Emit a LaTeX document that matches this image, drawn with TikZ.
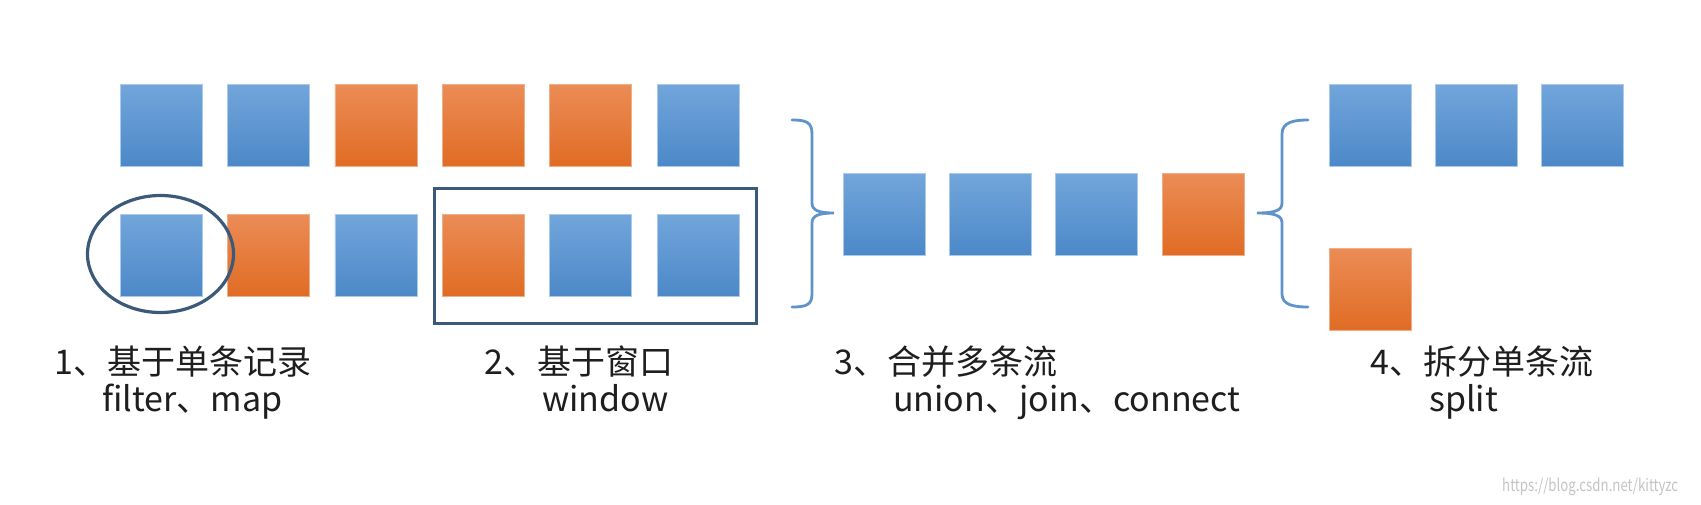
\documentclass[tikz,border=0pt]{standalone}
\usepackage{fontspec}
\setmainfont{Noto Sans CJK SC}
\usetikzlibrary{shapes.geometric}
\definecolor{bluetop}{HTML}{72A6DB}
\definecolor{bluebot}{HTML}{4C88C8}
\definecolor{orgtop}{HTML}{EB8C56}
\definecolor{orgbot}{HTML}{E06C24}
\definecolor{framec}{HTML}{3B5A79}
\definecolor{bracec}{HTML}{5E93CB}
\definecolor{txt}{HTML}{1E1E1E}
\definecolor{wmc}{HTML}{C4C4C4}
\begin{document}
\begin{tikzpicture}[x=1pt,y=-1pt,
  sq/.style={minimum width=82pt,minimum height=82pt,inner sep=0pt,outer sep=0pt,anchor=north west},
  bsq/.style={sq,top color=bluetop,bottom color=bluebot,draw=bluetop!60!white,line width=0.6pt},
  osq/.style={sq,top color=orgtop,bottom color=orgbot,draw=orgtop!70!white,line width=0.6pt},
  frame/.style={draw=framec,line width=3.2pt},
  bracket/.style={draw=bracec,line width=2.8pt,line cap=round},
  lab/.style={anchor=base west,inner sep=0pt,text=txt,font=\fontsize{34}{40}\selectfont}]
\useasboundingbox[fill=white] (0,0) rectangle (1701,504);
% top row
\node[bsq] (t1) at (120,84) {};
\node[bsq] (t2) at (227.4,84) {};
\node[osq] (t3) at (334.8,84) {};
\node[osq] (t4) at (442.2,84) {};
\node[osq] (t5) at (549.6,84) {};
\node[bsq] (t6) at (657,84) {};
% bottom row
\node[bsq] (b1) at (120,214) {};
\node[osq] (b2) at (227.4,214) {};
\node[bsq] (b3) at (334.8,214) {};
\node[osq] (b4) at (442.2,214) {};
\node[bsq] (b5) at (549.6,214) {};
\node[bsq] (b6) at (657,214) {};
% circle and window frame
\node[frame,ellipse,minimum width=146pt,minimum height=117pt,inner sep=0pt] (circ) at (160.5,254) {};
\node[frame,minimum width=322pt,minimum height=135pt,inner sep=0pt,anchor=north west] (win) at (432.5,186.5) {};
% left brace (closing)
\draw[bracket] (792,120) .. controls (806,120) and (812,122) .. (812,134) -- (812,203)
  .. controls (812,210) and (818,213) .. (834,213) .. controls (818,213) and (812,216) .. (812,223)
  -- (812,294) .. controls (812,305) and (806,307) .. (792,307);
% merged stream
\node[bsq] (m1) at (843,173) {};
\node[bsq] (m2) at (949.3,173) {};
\node[bsq] (m3) at (1055.6,173) {};
\node[osq] (m4) at (1162,173) {};
% right brace (opening)
\draw[bracket] (1308,120) .. controls (1294,120) and (1282,122) .. (1282,134) -- (1282,203)
  .. controls (1282,210) and (1276,213) .. (1257,213) .. controls (1276,213) and (1282,216) .. (1282,223)
  -- (1282,294) .. controls (1282,305) and (1294,307) .. (1308,307);
% split streams
\node[bsq] (s1) at (1329,84) {};
\node[bsq] (s2) at (1435,84) {};
\node[bsq] (s3) at (1541,84) {};
\node[osq] (s4) at (1329,248) {};
% labels
\node[lab] (l1a) at (54,374) {1、基于单条记录};
\node[lab] (l1b) at (102,411) {filter、map};
\node[lab] (l2a) at (484,374) {2、基于窗口};
\node[lab] (l2b) at (542,411) {window};
\node[lab] (l3a) at (834,374) {3、合并多条流};
\node[lab] (l3b) at (893,411) {union、join、connect};
\node[lab] (l4a) at (1370,374) {4、拆分单条流};
\node[lab] (l4b) at (1429,411) {split};
\node[anchor=base west,inner sep=0pt,text=wmc,font=\fontsize{17}{17}\selectfont] (wm) at (1502,491) {\scalebox{0.78}[1]{https://blog.csdn.net/kittyzc}};
\end{tikzpicture}
\end{document}
